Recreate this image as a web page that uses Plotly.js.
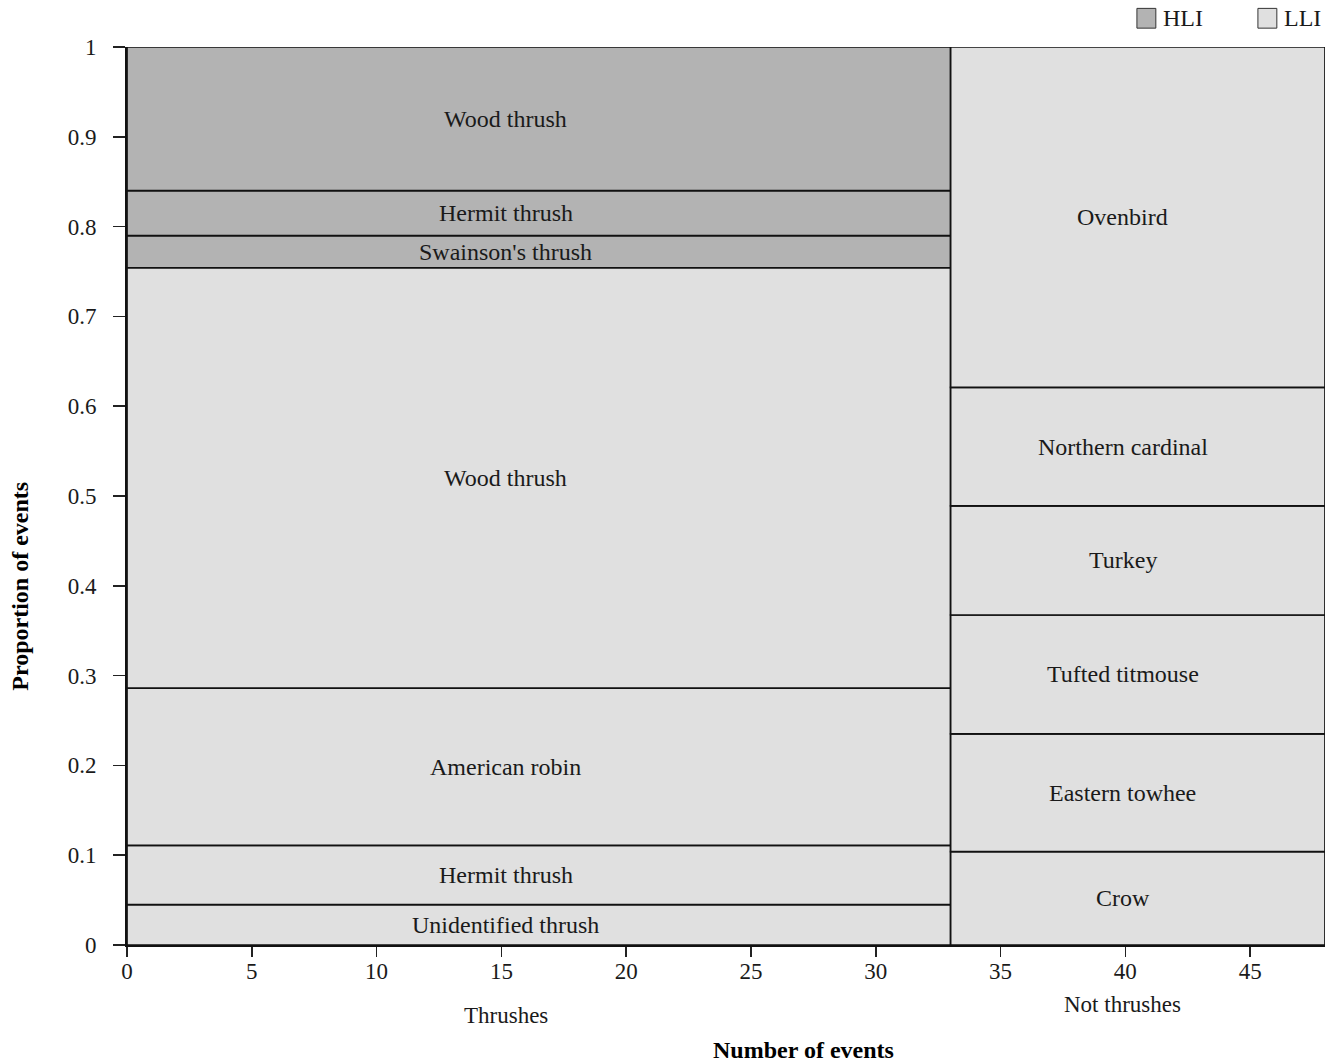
<!DOCTYPE html>
<html>
<head>
<meta charset="utf-8">
<script src="https://cdn.plot.ly/plotly-3.0.1.min.js"></script>
<style>html,body{margin:0;padding:0;background:#fff;}#chart{width:1334px;height:1064px;}</style>
</head>
<body>
<div id="chart"></div>
<script>
// ---- data ----
var columns = ["Thrushes", "Not thrushes"];
var columnEvents = [33, 15];

var thrushSpecies = ["Unidentified thrush", "Hermit thrush", "American robin", "Wood thrush", "Swainson's thrush", "Hermit thrush", "Wood thrush"];
var thrushGroup   = ["LLI", "LLI", "LLI", "LLI", "HLI", "HLI", "HLI"];
var thrushProp    = [0.045, 0.066, 0.175, 0.468, 0.036, 0.050, 0.160];

var otherSpecies = ["Crow", "Eastern towhee", "Tufted titmouse", "Turkey", "Northern cardinal", "Ovenbird"];
var otherGroup   = ["LLI", "LLI", "LLI", "LLI", "LLI", "LLI"];
var otherProp    = [0.104, 0.131, 0.1325, 0.1215, 0.132, 0.379];

var groups = ["HLI", "LLI"];
var xTicks = [0, 5, 10, 15, 20, 25, 30, 35, 40, 45];
var yTicks = [0, 0.1, 0.2, 0.3, 0.4, 0.5, 0.6, 0.7, 0.8, 0.9, 1];

// ---- styles ----
var groupColor = {HLI: "#b3b3b3", LLI: "#e0e0e0"};
var serif = "Liberation Serif, Times New Roman, serif";
var labelFrac = 0.46;
var fs = 23;
var lfs = 24;

var cols = [
  {species: thrushSpecies, group: thrushGroup, prop: thrushProp},
  {species: otherSpecies, group: otherGroup, prop: otherProp}
];

var segs = {HLI: {x: [], w: [], b: [], y: []}, LLI: {x: [], w: [], b: [], y: []}};
var annotations = [];
var start = 0;
cols.forEach(function (c, ci) {
  var width = columnEvents[ci];
  var base = 0;
  for (var i = 0; i < c.prop.length; i++) {
    var s = segs[c.group[i]];
    s.x.push(start + width / 2);
    s.w.push(width);
    s.b.push(base);
    s.y.push(c.prop[i]);
    annotations.push({
      x: start + width * labelFrac, y: base + c.prop[i] / 2,
      xref: "x", yref: "y", xanchor: "center", yanchor: "middle",
      text: c.species[i], showarrow: false,
      font: {family: serif, size: lfs, color: "#1a1a1a"}
    });
    base += c.prop[i];
  }
  annotations.push({
    x: start + width * labelFrac, y: 0, xref: "x", yref: "y",
    xanchor: "center", yanchor: "middle", yshift: ci === 0 ? -70 : -59,
    text: columns[ci], showarrow: false,
    font: {family: serif, size: fs, color: "#1a1a1a"}
  });
  start += width;
});

annotations.push({
  x: 0.565, y: -0.117, xref: "paper", yref: "paper",
  xanchor: "center", yanchor: "middle",
  text: "<b>Number of events</b>", showarrow: false,
  font: {family: serif, size: lfs, color: "#000"}
});
annotations.push({
  x: -0.0893, y: 0.399, xref: "paper", yref: "paper",
  xanchor: "center", yanchor: "middle", textangle: -90,
  text: "<b>Proportion of events</b>", showarrow: false,
  font: {family: serif, size: lfs, color: "#000"}
});

// custom legend
var shapes = [];
var legX = [0.843, 0.944];
groups.forEach(function (g, gi) {
  shapes.push({
    type: "rect", xref: "paper", yref: "paper",
    x0: legX[gi], x1: legX[gi] + 0.0158, y0: 1.021, y1: 1.043,
    fillcolor: groupColor[g], line: {color: "#333", width: 1}
  });
  annotations.push({
    x: legX[gi] + 0.0205, y: 1.032, xref: "paper", yref: "paper",
    xanchor: "left", yanchor: "middle", text: g, showarrow: false,
    font: {family: serif, size: 24, color: "#1a1a1a"}
  });
});

var traces = groups.map(function (g) {
  return {
    type: "bar", name: g, x: segs[g].x, y: segs[g].y, base: segs[g].b,
    width: segs[g].w, cliponaxis: false, hoverinfo: "skip",
    marker: {color: groupColor[g], line: {color: "#111", width: 1.7}},
    showlegend: false
  };
});

var layout = {
  width: 1334, height: 1064,
  margin: {l: 127, r: 9, t: 47, b: 119},
  paper_bgcolor: "#fff", plot_bgcolor: "#fff",
  barmode: "overlay",
  showlegend: false,
  xaxis: {
    range: [0, 48], tickvals: xTicks, ticktext: xTicks.map(String),
    ticks: "outside", ticklen: 10, tickwidth: 1.5, tickcolor: "#222",
    showline: true, linecolor: "#111", linewidth: 1.5,
    showgrid: false, zeroline: false, ticklabelstandoff: -5,
    tickfont: {family: serif, size: fs, color: "#1a1a1a"}
  },
  yaxis: {
    range: [0, 1], tickvals: yTicks, ticktext: yTicks.map(String),
    ticks: "outside", ticklen: 12, tickwidth: 1.5, tickcolor: "#222",
    showline: true, linecolor: "#111", linewidth: 2,
    showgrid: false, zeroline: false, ticklabelstandoff: 12,
    tickfont: {family: serif, size: fs, color: "#1a1a1a"}
  },
  annotations: annotations,
  shapes: shapes
};

Plotly.newPlot("chart", traces, layout, {displayModeBar: false, staticPlot: true});
</script>
</body>
</html>
